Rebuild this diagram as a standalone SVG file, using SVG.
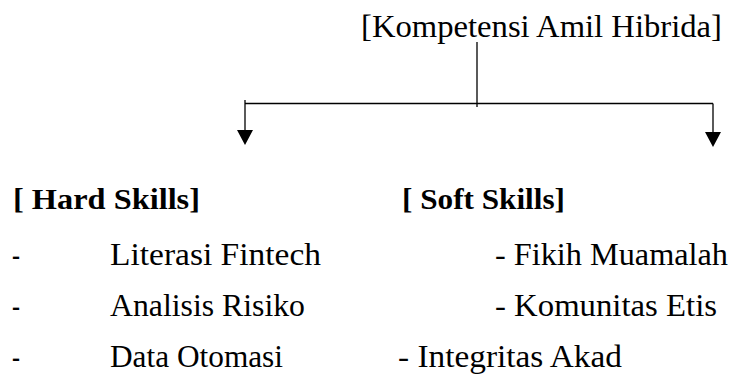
<svg xmlns="http://www.w3.org/2000/svg" width="731" height="380" viewBox="0 0 731 380">
<defs>
<style>
.t{font-family:"Liberation Serif",serif;font-size:32px;fill:#000}
.r{font-family:"Liberation Serif",serif;font-size:31px;fill:#000}
.b{font-family:"Liberation Serif",serif;font-size:30px;font-weight:bold;fill:#000}
.ln{stroke:#000;stroke-width:1.3;fill:none}
</style>
</defs>
<rect width="731" height="380" fill="#fff"/>
<g id="root"><text class="r" x="361" y="37" textLength="361" lengthAdjust="spacingAndGlyphs">[Kompetensi Amil Hibrida]</text></g>
<g id="connectors">
<line class="ln" x1="477" y1="42" x2="477" y2="107"/>
<line class="ln" x1="245" y1="103.5" x2="713" y2="103.5"/>
<line class="ln" x1="245" y1="100" x2="245" y2="131"/>
<path d="M237,130 L253,130 L245,145 Z" fill="#000"/>
<line class="ln" x1="713" y1="103.5" x2="713" y2="133"/>
<path d="M705,132 L721,132 L713,147 Z" fill="#000"/>
</g>
<g id="hard">
<text class="b" x="13" y="209" textLength="187" lengthAdjust="spacingAndGlyphs">[ Hard Skills]</text>
<text class="t" x="12" y="265" textLength="8" lengthAdjust="spacingAndGlyphs">-</text>
<text class="t" x="110" y="265" textLength="211" lengthAdjust="spacingAndGlyphs">Literasi Fintech</text>
<text class="t" x="12" y="316" textLength="8" lengthAdjust="spacingAndGlyphs">-</text>
<text class="t" x="110" y="316" textLength="195" lengthAdjust="spacingAndGlyphs">Analisis Risiko</text>
<text class="t" x="12" y="367" textLength="8" lengthAdjust="spacingAndGlyphs">-</text>
<text class="t" x="110" y="367" textLength="173" lengthAdjust="spacingAndGlyphs">Data Otomasi</text>
</g>
<g id="soft">
<text class="b" x="402" y="209" textLength="163" lengthAdjust="spacingAndGlyphs">[ Soft Skills]</text>
<text class="t" x="495" y="265" textLength="233" lengthAdjust="spacingAndGlyphs">- Fikih Muamalah</text>
<text class="t" x="495" y="316" textLength="222" lengthAdjust="spacingAndGlyphs">- Komunitas Etis</text>
<text class="t" x="398" y="367" textLength="224" lengthAdjust="spacingAndGlyphs">- Integritas Akad</text>
</g>
</svg>
